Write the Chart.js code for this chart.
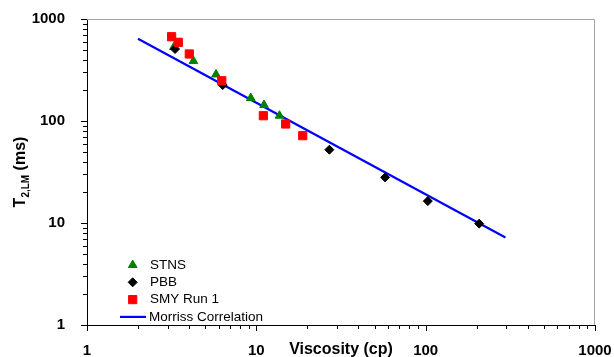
<!DOCTYPE html>
<html>
<head>
<meta charset="utf-8">
<script src="https://cdn.jsdelivr.net/npm/chart.js@4/dist/chart.umd.min.js"></script>
<style>
  html, body { margin: 0; padding: 0; background: #fff; }
  #wrap { width: 614px; height: 357px; }
</style>
</head>
<body>
<div id="wrap"><canvas id="t2Chart" width="614" height="357"></canvas></div>
<script>
// viscosity (cp) vs T2,LM (ms)
const stnsViscosity = [3.26, 4.25, 5.78, 9.27, 11.1, 13.7];
const stnsT2 = [531, 387, 286, 168, 143.6, 112.7];

const pbbViscosity = [3.31, 6.33, 27.0, 57.6, 103, 207];
const pbbT2 = [508, 225, 52.3, 28.0, 16.4, 9.85];

const smyViscosity = [3.16, 3.46, 4.02, 6.25, 11.0, 14.9, 18.8];
const smyT2 = [670, 591, 454, 248, 112.7, 93.5, 71.8];

const morrissViscosity = [2, 296];
const morrissT2 = [640, 7.2];

const axisTicks = [1, 10, 100, 1000];

const FONT = "'Liberation Sans', Arial, sans-serif";

function toPoints(xs, ys) {
  return xs.map((x, i) => ({ x, y: ys[i] }));
}

const legendRows = [
  { label: "STNS", ds: 0 },
  { label: "PBB", ds: 1 },
  { label: "SMY Run 1", ds: 2 },
  { label: "Morriss Correlation", ds: 3 },
];

function drawMarker(ctx, ds, x, y) {
  ctx.fillStyle = ds.backgroundColor;
  ctx.strokeStyle = ds.borderColor;
  ctx.lineWidth = ds.borderWidth;
  Chart.helpers.drawPoint(ctx, {
    pointStyle: ds.pointStyle,
    radius: ds.pointRadius,
    borderWidth: ds.borderWidth,
    rotation: 0,
  }, x, y);
}

// frame, log tick marks, axis titles and the inset legend
const decorations = {
  id: "decorations",
  afterDraw(chart) {
    const { ctx, chartArea: a, scales } = chart;
    const xs = scales.x, ys = scales.y;
    ctx.save();

    ctx.strokeStyle = "#a6a6a6";
    ctx.lineWidth = 1;
    ctx.beginPath();
    ctx.moveTo(a.left, a.top + 0.5);
    ctx.lineTo(a.right - 0.5, a.top + 0.5);
    ctx.lineTo(a.right - 0.5, a.bottom);
    ctx.stroke();

    ctx.strokeStyle = "#000";
    ctx.beginPath();
    for (let d = 1; d <= 1000; d *= 10) {
      const last = d === 1000 ? 1 : 9;
      for (let m = 1; m <= last; m++) {
        const len = m === 1 ? 6 : 4;
        const px = Math.round(xs.getPixelForValue(d * m)) + 0.5;
        ctx.moveTo(px, a.bottom);
        ctx.lineTo(px, a.bottom + len);
        const py = Math.round(ys.getPixelForValue(d * m)) + 0.5;
        ctx.moveTo(a.left, py);
        ctx.lineTo(a.left - len, py);
      }
    }
    ctx.stroke();

    // x title sits on the tick label row
    ctx.fillStyle = "#000";
    ctx.font = `bold 16px ${FONT}`;
    ctx.textAlign = "center";
    ctx.textBaseline = "middle";
    ctx.fillText("Viscosity (cp)", (a.left + a.right) / 2, 350);

    // y title with subscript
    ctx.save();
    ctx.translate(19.5, (a.top + a.bottom) / 2);
    ctx.rotate(-Math.PI / 2);
    ctx.textAlign = "left";
    ctx.textBaseline = "alphabetic";
    const big = `bold 16px ${FONT}`, small = `bold 10px ${FONT}`;
    ctx.font = big;
    const wT = ctx.measureText("T").width;
    const wMs = ctx.measureText(" (ms)").width;
    ctx.font = small;
    const wSub = ctx.measureText("2,LM").width;
    let cx = -(wT + wSub + wMs) / 2;
    ctx.font = big;
    ctx.fillText("T", cx, 5.7);
    cx += wT;
    ctx.font = small;
    ctx.fillText("2,LM", cx, 9);
    cx += wSub;
    ctx.font = big;
    ctx.fillText(" (ms)", cx, 5.7);
    ctx.restore();

    // legend
    const markerX = a.left + 45.7, textX = a.left + 63;
    ctx.font = `13.5px ${FONT}`;
    ctx.textAlign = "left";
    ctx.textBaseline = "middle";
    legendRows.forEach((row, i) => {
      const ds = chart.data.datasets[row.ds];
      const ry = 265 + i * 17.3;
      if (ds.showLine) {
        ctx.strokeStyle = ds.borderColor;
        ctx.lineWidth = ds.borderWidth;
        ctx.beginPath();
        ctx.moveTo(a.left + 33, ry);
        ctx.lineTo(a.left + 59, ry);
        ctx.stroke();
        ctx.fillStyle = "#000";
        ctx.fillText(row.label, a.left + 62, ry);
      } else {
        drawMarker(ctx, ds, markerX, ry);
        ctx.fillStyle = "#000";
        ctx.fillText(row.label, textX, ry);
      }
    });

    ctx.restore();
  },
};

const tickFont = { family: FONT, size: 15, weight: "bold" };

const ctx = document.getElementById("t2Chart").getContext("2d");

new Chart(ctx, {
  type: "scatter",
  data: {
    datasets: [
      {
        label: "STNS",
        data: toPoints(stnsViscosity, stnsT2),
        pointStyle: "triangle",
        pointRadius: 5,
        backgroundColor: "#008000",
        borderColor: "#008000",
        borderWidth: 1,
        order: 3,
      },
      {
        label: "PBB",
        data: toPoints(pbbViscosity, pbbT2),
        pointStyle: "rectRot",
        pointRadius: 4.5,
        backgroundColor: "#000000",
        borderColor: "#000000",
        borderWidth: 1,
        order: 2,
      },
      {
        label: "SMY Run 1",
        data: toPoints(smyViscosity, smyT2),
        pointStyle: "rect",
        pointRadius: 5.8,
        backgroundColor: "#ff0000",
        borderColor: "#ff0000",
        borderWidth: 1,
        order: 1,
      },
      {
        label: "Morriss Correlation",
        data: toPoints(morrissViscosity, morrissT2),
        showLine: true,
        pointRadius: 0,
        borderColor: "#0000ff",
        backgroundColor: "#0000ff",
        borderWidth: 2.2,
        order: 4,
      },
    ],
  },
  options: {
    responsive: false,
    animation: false,
    devicePixelRatio: 1,
    layout: { padding: { top: 19, right: 19, left: 0, bottom: 0 } },
    plugins: {
      legend: { display: false },
      tooltip: { enabled: false },
    },
    scales: {
      x: {
        type: "logarithmic",
        position: "bottom",
        min: 1,
        max: 1000,
        grid: { display: false },
        border: { display: true, color: "#000", width: 1 },
        ticks: {
          color: "#000",
          font: tickFont,
          padding: 9,
          maxRotation: 0,
          autoSkip: false,
          callback: (v) => String(v),
        },
        afterBuildTicks: (s) => {
          s.ticks = axisTicks.map((v) => ({ value: v }));
        },
        afterFit: (s) => {
          s.height = 32;
          s.paddingLeft = 0;
          s.paddingRight = 0;
        },
      },
      y: {
        type: "logarithmic",
        position: "left",
        min: 1,
        max: 1000,
        grid: { display: false },
        border: { display: true, color: "#000", width: 1 },
        ticks: {
          color: "#000",
          font: tickFont,
          padding: 14,
          autoSkip: false,
          callback: (v) => String(v),
        },
        afterBuildTicks: (s) => {
          s.ticks = axisTicks.map((v) => ({ value: v }));
        },
        afterFit: (s) => {
          s.width = 87;
          s.paddingTop = 0;
          s.paddingBottom = 0;
        },
      },
    },
  },
  plugins: [decorations],
});
</script>
</body>
</html>
